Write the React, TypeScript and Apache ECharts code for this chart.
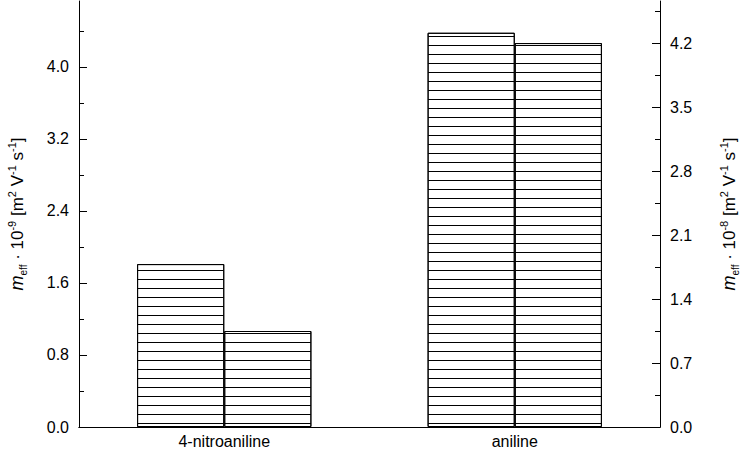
import React, { useEffect, useRef } from "react";
import * as echarts from "echarts";

const categories = ["4-nitroaniline", "aniline"];
const leftSeriesValues = [1.81, 4.38];
const rightSeriesValues = [1.05, 4.2];
const leftMajorTicks = [0, 0.8, 1.6, 2.4, 3.2, 4.0];
const leftMinorTicks = [0.4, 1.2, 2.0, 2.8, 3.6, 4.4];
const rightMajorTicks = [0, 0.7, 1.4, 2.1, 2.8, 3.5, 4.2];
const rightMinorTicks = [0.35, 1.05, 1.75, 2.45, 3.15, 3.85, 4.55];
const leftMax = 4.733;
const rightMax = 4.66;

const FONT = "Liberation Sans";

const richStyles = {
  i: { fontStyle: "italic", fontSize: 18, lineHeight: 22, fontFamily: FONT, color: "#000" },
  n: { fontSize: 17, lineHeight: 22, fontFamily: FONT, color: "#000" },
  sup: { fontSize: 11, lineHeight: 10, verticalAlign: "top", fontFamily: FONT, color: "#000" },
  sub: { fontSize: 10, lineHeight: 10, verticalAlign: "bottom", fontFamily: FONT, color: "#000" },
};

const makeName = (exp: string) =>
  `{i|m}{sub|eff}{n| · 10}{sup|${exp}}{n| [m}{sup|2}{n| V}{sup|-1}{n| s}{sup|-1}{n|]}`;

const decal = {
  symbol: "rect",
  symbolSize: 1,
  color: "#000",
  backgroundColor: null,
  dashArrayX: [1, 0],
  dashArrayY: [1, 8],
  rotation: 0,
};

export default function App() {
  const ref = useRef<HTMLDivElement>(null);
  useEffect(() => {
    if (!ref.current) return;
    const chart = echarts.init(ref.current, null, { renderer: "svg" });
    const lineStyle = { color: "#000", width: 1 };
    chart.setOption({
      animation: false,
      backgroundColor: "#fff",
      grid: { left: 79, right: 84, top: 1, bottom: 23, containLabel: false, outerBoundsMode: "none" },
      xAxis: [
        {
          type: "category",
          data: categories,
          position: "bottom",
          axisLine: { show: true, lineStyle },
          axisTick: { show: false },
          axisLabel: { fontSize: 16, fontFamily: FONT, color: "#000", margin: 6 },
          splitLine: { show: false },
        },
        {
          type: "category",
          data: categories,
          position: "top",
          axisLine: { show: true, lineStyle },
          axisTick: { show: false },
          axisLabel: { show: false },
          splitLine: { show: false },
        },
      ],
      yAxis: [
        {
          type: "value",
          position: "left",
          min: 0,
          max: leftMax,
          axisLine: { show: true, lineStyle },
          axisTick: { show: true, inside: true, length: 8, customValues: leftMajorTicks, lineStyle },
          axisLabel: {
            customValues: leftMajorTicks,
            formatter: (v: number) => v.toFixed(1),
            fontSize: 16,
            fontFamily: FONT,
            color: "#000",
            margin: 10,
          },
          splitLine: { show: false },
          name: makeName("-9"),
          nameLocation: "middle",
          nameRotate: 90,
          nameGap: 51,
          nameMoveOverlap: false,
          nameTextStyle: { fontSize: 17, fontFamily: FONT, color: "#000", rich: richStyles },
        },
        {
          type: "value",
          position: "right",
          min: 0,
          max: rightMax,
          axisLine: { show: true, lineStyle },
          axisTick: { show: true, inside: true, length: 8, customValues: rightMajorTicks, lineStyle },
          axisLabel: {
            customValues: rightMajorTicks,
            formatter: (v: number) => v.toFixed(1),
            fontSize: 16,
            fontFamily: FONT,
            color: "#000",
            margin: 10,
          },
          splitLine: { show: false },
          name: makeName("-8"),
          nameLocation: "middle",
          nameRotate: 90,
          nameGap: 58,
          nameMoveOverlap: false,
          nameTextStyle: { fontSize: 17, fontFamily: FONT, color: "#000", rich: richStyles },
        },
        {
          type: "value",
          position: "left",
          min: 0,
          max: leftMax,
          axisLine: { show: false },
          axisTick: { show: true, inside: true, length: 5, customValues: leftMinorTicks, lineStyle },
          axisLabel: { show: false },
          splitLine: { show: false },
        },
        {
          type: "value",
          position: "right",
          min: 0,
          max: rightMax,
          axisLine: { show: false },
          axisTick: { show: true, inside: true, length: 5, customValues: rightMinorTicks, lineStyle },
          axisLabel: { show: false },
          splitLine: { show: false },
        },
      ],
      series: [
        {
          type: "bar",
          xAxisIndex: 0,
          yAxisIndex: 0,
          data: leftSeriesValues,
          barGap: "0%",
          barCategoryGap: "40%",
          itemStyle: { color: "#fff", borderColor: "#000", borderWidth: 1, decal },
        },
        {
          type: "bar",
          xAxisIndex: 0,
          yAxisIndex: 1,
          data: rightSeriesValues,
          barGap: "0%",
          barCategoryGap: "40%",
          itemStyle: { color: "#fff", borderColor: "#000", borderWidth: 1, decal },
        },
      ],
    });
    return () => chart.dispose();
  }, []);
  return (
    <div
      ref={ref}
      style={{ position: "fixed", left: 0, top: 0, width: 744, height: 450 }}
    />
  );
}
